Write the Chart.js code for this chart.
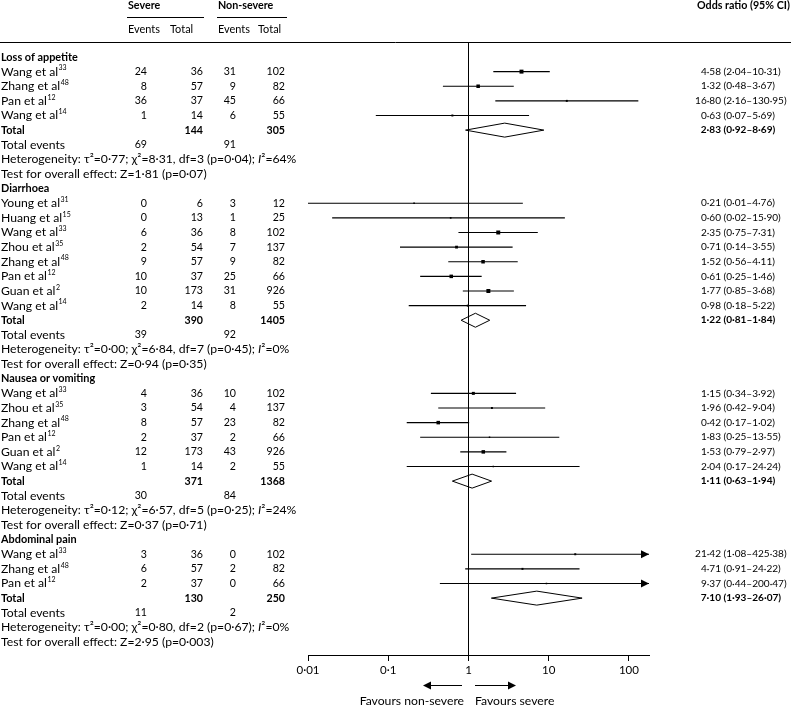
<!DOCTYPE html>
<html>
<head>
<meta charset="utf-8">
<script src="https://cdn.jsdelivr.net/npm/chart.js@4.4.1/dist/chart.umd.min.js"></script>
<style>
  html, body { margin: 0; padding: 0; background: #fff; }
  #forest { display: block; }
</style>
</head>
<body>
<canvas id="forest" width="791" height="705"></canvas>
<script>
// ---- data ----
const groupNames = ["Loss of appetite", "Diarrhoea", "Nausea or vomiting", "Abdominal pain"];
const studyNames = [
  ["Wang et al", "Zhang et al", "Pan et al", "Wang et al"],
  ["Young et al", "Huang et al", "Wang et al", "Zhou et al", "Zhang et al", "Pan et al", "Guan et al", "Wang et al"],
  ["Wang et al", "Zhou et al", "Zhang et al", "Pan et al", "Guan et al", "Wang et al"],
  ["Wang et al", "Zhang et al", "Pan et al"]
];
const studyRefs = [
  ["33", "48", "12", "14"],
  ["31", "15", "33", "35", "48", "12", "2", "14"],
  ["33", "35", "48", "12", "2", "14"],
  ["33", "48", "12"]
];
const severeEvents = [[24, 8, 36, 1], [0, 0, 6, 2, 9, 10, 10, 2], [4, 3, 8, 2, 12, 1], [3, 6, 2]];
const severeTotal = [[36, 57, 37, 14], [6, 13, 36, 54, 57, 37, 173, 14], [36, 54, 57, 37, 173, 14], [36, 57, 37]];
const nonSevereEvents = [[31, 9, 45, 6], [3, 1, 8, 7, 9, 25, 31, 8], [10, 4, 23, 2, 43, 2], [0, 2, 0]];
const nonSevereTotal = [[102, 82, 66, 55], [12, 25, 102, 137, 82, 66, 926, 55], [102, 137, 82, 66, 926, 55], [102, 82, 66]];
const oddsRatio = [[4.58, 1.32, 16.80, 0.63], [0.21, 0.60, 2.35, 0.71, 1.52, 0.61, 1.77, 0.98], [1.15, 1.96, 0.42, 1.83, 1.53, 2.04], [21.42, 4.71, 9.37]];
const ciLower = [[2.04, 0.48, 2.16, 0.07], [0.01, 0.02, 0.75, 0.14, 0.56, 0.25, 0.85, 0.18], [0.34, 0.42, 0.17, 0.25, 0.79, 0.17], [1.08, 0.91, 0.44]];
const ciUpper = [[10.31, 3.67, 130.95, 5.69], [4.76, 15.90, 7.31, 3.55, 4.11, 1.46, 3.68, 5.22], [3.92, 9.04, 1.02, 13.55, 2.97, 24.24], [425.38, 24.22, 200.47]];
// relative study weights
const boxWeight = [[28, 22, 7, 7], [5, 5, 28, 14, 22, 22, 28, 7], [16, 7, 22, 4, 22, 4], [7, 7, 4]];

const pooledOR = [2.83, 1.22, 1.11, 7.10];
const pooledLower = [0.92, 0.81, 0.63, 1.93];
const pooledUpper = [8.69, 1.84, 1.94, 26.07];
const pooledSevereTotal = [144, 390, 371, 130];
const pooledNonSevereTotal = [305, 1405, 1368, 250];
const totalSevereEvents = [69, 39, 30, 11];
const totalNonSevereEvents = [91, 92, 84, 2];

const hetTau2 = ["0·77", "0·00", "0·12", "0·00"];
const hetChi2 = ["8·31", "6·84", "6·57", "0·80"];
const hetDf = [3, 7, 5, 2];
const hetP = ["0·04", "0·45", "0·25", "0·67"];
const hetI2 = [64, 0, 24, 0];
const effectZ = ["1·81", "0·94", "0·37", "2·95"];
const effectP = ["0·07", "0·35", "0·71", "0·003"];

const xTicks = [0.01, 0.1, 1, 10, 100];
const xTickLabels = ["0·01", "0·1", "1", "10", "100"];

// ---- layout ----
const FONT = "Lato";
const X_MIN = 0.01;
const X_MAX = 177.8;
const fmt = v => v.toFixed(2).replace(".", "·");

// font sizes are fitted so that a few sample strings match the widths in the original
function fitSize(ctx, str, width, weight) {
  ctx.font = `normal ${weight || "normal"} 20px ${FONT}`;
  return 20 * width / ctx.measureText(str).width;
}

// one row per line of the table
const rows = [];
groupNames.forEach((name, g) => {
  rows.push({ kind: "group", g });
  studyNames[g].forEach((_, s) => rows.push({ kind: "study", g, s }));
  rows.push({ kind: "total", g });
  rows.push({ kind: "events", g });
  rows.push({ kind: "het", g });
  rows.push({ kind: "test", g });
});

const points = [];
const radii = [];
const ciSegments = [];
rows.forEach((r, i) => {
  if (r.kind !== "study") return;
  points.push({ x: oddsRatio[r.g][r.s], y: i });
  radii.push(0.53 * Math.sqrt(boxWeight[r.g][r.s]));
  ciSegments.push({ x: ciLower[r.g][r.s], y: i }, { x: ciUpper[r.g][r.s], y: i }, { x: null, y: null });
});

function put(ctx, str, x, y, align, weight, size, style) {
  ctx.font = `${style || "normal"} ${weight || "normal"} ${size}px ${FONT}`;
  ctx.textAlign = align || "left";
  ctx.fillText(str, x, y);
  return ctx.measureText(str).width;
}

function hLine(ctx, x0, x1, y) {
  ctx.beginPath();
  ctx.moveTo(x0, Math.round(y) + 0.5);
  ctx.lineTo(x1, Math.round(y) + 0.5);
  ctx.stroke();
}

function arrowHead(ctx, tipX, y, dir, len, half) {
  ctx.beginPath();
  ctx.moveTo(tipX, y);
  ctx.lineTo(tipX - dir * len, y - half);
  ctx.lineTo(tipX - dir * len, y + half);
  ctx.closePath();
  ctx.fill();
}

const forestPlugin = {
  id: "forest",
  beforeDatasetsDraw(chart) {
    const { ctx, chartArea, scales } = chart;
    const x1 = Math.round(scales.x.getPixelForValue(1)) + 0.5;
    ctx.save();
    ctx.strokeStyle = "#000";
    ctx.lineWidth = 1;
    ctx.beginPath();
    ctx.moveTo(x1, chartArea.top);
    ctx.lineTo(x1, chartArea.bottom);
    ctx.stroke();
    ctx.restore();
  },
  afterDatasetsDraw(chart) {
    const { ctx, chartArea, scales } = chart;
    const { x, y } = scales;
    ctx.save();
    ctx.fillStyle = "#000";
    ctx.strokeStyle = "#000";
    ctx.lineWidth = 1;
    rows.forEach((r, i) => {
      const py = y.getPixelForValue(i);
      if (r.kind === "study" && ciUpper[r.g][r.s] > X_MAX) {
        arrowHead(ctx, chartArea.right, py, 1, 8, 4);
      }
      if (r.kind === "total") {
        const lo = x.getPixelForValue(pooledLower[r.g]);
        const mid = x.getPixelForValue(pooledOR[r.g]);
        const hi = x.getPixelForValue(pooledUpper[r.g]);
        ctx.beginPath();
        ctx.moveTo(lo, py);
        ctx.lineTo(mid, py - 7);
        ctx.lineTo(hi, py);
        ctx.lineTo(mid, py + 7);
        ctx.closePath();
        ctx.stroke();
      }
    });
    ctx.restore();
  },
  afterDraw(chart) {
    const { ctx, chartArea, scales } = chart;
    const { x, y } = scales;
    const colLabel = 1, colSevEv = 147, colSevTot = 203, colNonEv = 236, colNonTot = 285, colOR = 721;

    const TXT = fitSize(ctx, "Test for overall effect: Z=1·81 (p=0·07)", 206);
    const BOLD = fitSize(ctx, "Loss of appetite", 77, "bold");
    const NUM = fitSize(ctx, "102", 18.5);
    const ORS = fitSize(ctx, "4·58 (2·04–10·31)", 80);
    const HEAD = fitSize(ctx, "Odds ratio (95% CI)", 93, "bold");
    const SUB = fitSize(ctx, "Events", 32);

    ctx.save();
    ctx.fillStyle = "#000";
    ctx.strokeStyle = "#000";
    ctx.lineWidth = 1;
    ctx.textBaseline = "middle";

    // header
    const top = chartArea.top;
    put(ctx, "Severe", 128, top - 37, "left", "bold", HEAD);
    put(ctx, "Non-severe", 218, top - 37, "left", "bold", HEAD);
    put(ctx, "Odds ratio (95% CI)", 697, top - 37, "left", "bold", HEAD);
    hLine(ctx, 127, 204, top - 26);
    hLine(ctx, 217, 287, top - 26);
    put(ctx, "Events", 128, top - 14, "left", "normal", SUB);
    put(ctx, "Total", 170, top - 14, "left", "normal", SUB);
    put(ctx, "Events", 218, top - 14, "left", "normal", SUB);
    put(ctx, "Total", 258, top - 14, "left", "normal", SUB);
    hLine(ctx, 0, chart.width, top - 1);

    const orText = (or, lo, hi, py, bold) => {
      const w = bold ? "bold" : "normal";
      put(ctx, fmt(or), colOR, py, "right", w, ORS);
      put(ctx, " (" + fmt(lo) + "–" + fmt(hi) + ")", colOR, py, "left", w, ORS);
    };

    rows.forEach((r, i) => {
      const py = y.getPixelForValue(i);
      const g = r.g;
      if (r.kind === "group") {
        put(ctx, groupNames[g], colLabel, py, "left", "bold", BOLD);
      } else if (r.kind === "study") {
        const s = r.s;
        const w = put(ctx, studyNames[g][s], colLabel, py, "left", "normal", TXT);
        put(ctx, studyRefs[g][s], colLabel + w + 0.5, py - 3.5, "left", "normal", 7);
        put(ctx, String(severeEvents[g][s]), colSevEv, py, "right", "normal", NUM);
        put(ctx, String(severeTotal[g][s]), colSevTot, py, "right", "normal", NUM);
        put(ctx, String(nonSevereEvents[g][s]), colNonEv, py, "right", "normal", NUM);
        put(ctx, String(nonSevereTotal[g][s]), colNonTot, py, "right", "normal", NUM);
        orText(oddsRatio[g][s], ciLower[g][s], ciUpper[g][s], py, false);
      } else if (r.kind === "total") {
        put(ctx, "Total", colLabel, py, "left", "bold", BOLD);
        put(ctx, String(pooledSevereTotal[g]), colSevTot, py, "right", "bold", NUM);
        put(ctx, String(pooledNonSevereTotal[g]), colNonTot, py, "right", "bold", NUM);
        orText(pooledOR[g], pooledLower[g], pooledUpper[g], py, true);
      } else if (r.kind === "events") {
        put(ctx, "Total events", colLabel, py, "left", "normal", TXT);
        put(ctx, String(totalSevereEvents[g]), colSevEv, py, "right", "normal", NUM);
        put(ctx, String(totalNonSevereEvents[g]), colNonEv, py, "right", "normal", NUM);
      } else if (r.kind === "het") {
        let cx = colLabel;
        cx += put(ctx, "Heterogeneity: τ²=" + hetTau2[g] + "; χ²=" + hetChi2[g] + ", df=" + hetDf[g] + " (p=" + hetP[g] + "); ", cx, py, "left", "normal", TXT);
        cx += put(ctx, "I", cx, py, "left", "normal", TXT, "italic");
        put(ctx, "²=" + hetI2[g] + "%", cx, py, "left", "normal", TXT);
      } else if (r.kind === "test") {
        put(ctx, "Test for overall effect: Z=" + effectZ[g] + " (p=" + effectP[g] + ")", colLabel, py, "left", "normal", TXT);
      }
    });

    // favours arrows under the axis
    const x1 = Math.round(x.getPixelForValue(1));
    const ay = chartArea.bottom + 30.5;
    hLine(ctx, x1 - 37, x1 - 6, ay - 0.5);
    arrowHead(ctx, x1 - 45, ay, -1, 8, 4);
    hLine(ctx, x1 + 7, x1 + 40, ay - 0.5);
    arrowHead(ctx, x1 + 48, ay, 1, 8, 4);
    put(ctx, "Favours non-severe", x1 - 4, chartArea.bottom + 46, "right", "normal", TXT);
    put(ctx, "Favours severe", x1 + 7, chartArea.bottom + 46, "left", "normal", TXT);
    ctx.restore();
  }
};

new Chart(document.getElementById("forest"), {
  type: "scatter",
  data: {
    datasets: [
      {
        data: ciSegments,
        showLine: true,
        spanGaps: false,
        borderColor: "#000",
        borderWidth: 1.2,
        pointRadius: 0,
        pointHoverRadius: 0
      },
      {
        data: points,
        pointStyle: "rect",
        pointRadius: radii,
        pointHoverRadius: radii,
        pointBackgroundColor: "#000",
        pointBorderWidth: 0
      }
    ]
  },
  options: {
    responsive: false,
    devicePixelRatio: 1,
    animation: false,
    events: [],
    layout: { padding: { left: 308, right: 142, top: 43, bottom: 0 } },
    plugins: { legend: { display: false }, tooltip: { enabled: false } },
    scales: {
      x: {
        type: "logarithmic",
        min: X_MIN,
        max: X_MAX,
        afterBuildTicks: axis => { axis.ticks = xTicks.map(v => ({ value: v })); },
        afterFit: axis => { axis.height = 50; },
        ticks: {
          autoSkip: false,
          maxRotation: 0,
          padding: 2,
          color: "#000",
          font: { family: FONT, size: 11.5 },
          callback: (v, i) => xTickLabels[i]
        },
        grid: { drawOnChartArea: false, drawTicks: true, tickLength: 6, color: "#000" },
        border: { display: true, color: "#000", width: 1 }
      },
      y: {
        type: "linear",
        display: false,
        reverse: true,
        min: -0.957,
        max: 40.889
      }
    }
  },
  plugins: [forestPlugin]
});
</script>
</body>
</html>
